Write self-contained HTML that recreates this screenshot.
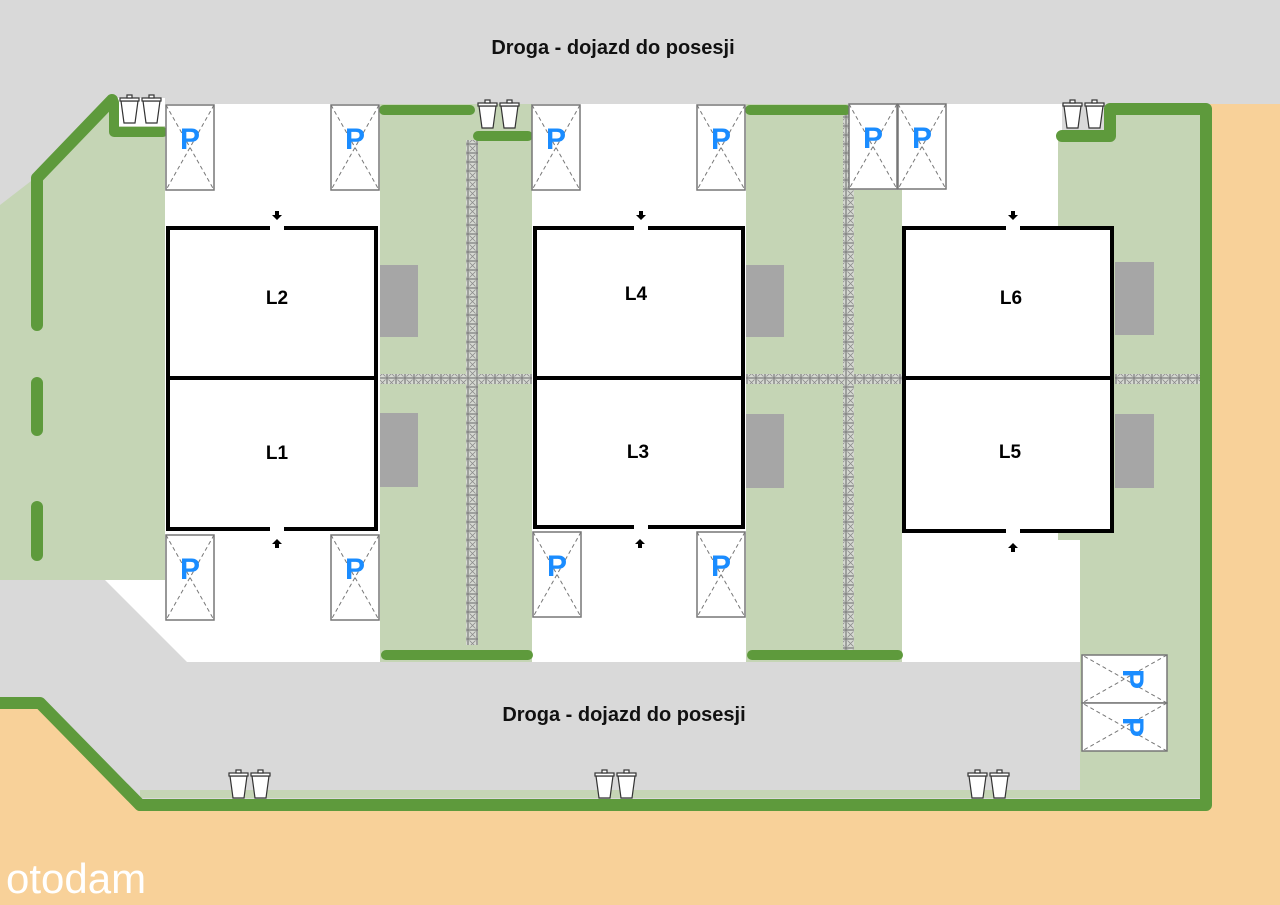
<!DOCTYPE html>
<html><head><meta charset="utf-8"><style>
html,body{margin:0;padding:0;width:1280px;height:905px;overflow:hidden;background:#d9d9d9}
svg text{font-family:"Liberation Sans",sans-serif}
</style></head><body>
<svg width="1280" height="905" viewBox="0 0 1280 905" xmlns="http://www.w3.org/2000/svg">
<defs>
<pattern id="pav" width="9" height="9" patternUnits="userSpaceOnUse">
<rect width="9" height="9" fill="#d6d9d2" stroke="#7a7a7a" stroke-width="1.2"/>
<path d="M1.5 1.5L7.5 7.5M7.5 1.5L1.5 7.5" stroke="#8a8a8a" stroke-width="0.8"/>
</pattern>
<g id="pk"><rect x="0" y="0" width="48" height="85" fill="#fff" stroke="#777" stroke-width="1.5"/>
<path d="M0 0L48 85M48 0L0 85" stroke="#777" stroke-width="1" stroke-dasharray="4 3"/>
<text x="24" y="44" font-size="30" font-weight="bold" fill="#1a8cff" text-anchor="middle">P</text></g>
<g id="bin"><g fill="#fff" stroke="#333" stroke-width="1.2">
<path d="M2 8L5 30H16L19 8Z"/><rect x="1" y="5" width="19" height="3"/><rect x="8" y="2" width="5" height="3"/>
<path d="M24 8L27 30H38L41 8Z"/><rect x="23" y="5" width="19" height="3"/><rect x="30" y="2" width="5" height="3"/></g></g>
<g id="arr"><path d="M-2 -8H2V-4H5L0 1L-5 -4H-2Z" fill="#000"/></g>
</defs>
<rect width="1280" height="905" fill="#d9d9d9"/>
<rect x="1210" y="104" width="70" height="801" fill="#f8d199"/>
<polygon points="0,706 38,706 138,806 1280,806 1280,905 0,905" fill="#f8d199"/>
<polygon points="0,205 35,178 112,100 165,100 165,580 0,580" fill="#c5d5b5"/>
<rect x="118" y="98" width="47" height="28" fill="#fff"/>
<rect x="165" y="104" width="215" height="476" fill="#fff"/>
<polygon points="105,580 380,580 380,662 187,662" fill="#fff"/>
<rect x="532" y="104" width="214" height="558" fill="#fff"/>
<rect x="902" y="104" width="160" height="558" fill="#fff"/>
<rect x="902" y="530" width="178" height="132" fill="#fff"/>
<rect x="380" y="104" width="152" height="558" fill="#c5d5b5"/>
<rect x="746" y="104" width="102" height="558" fill="#c5d5b5"/>
<rect x="848" y="190" width="54" height="472" fill="#c5d5b5"/>
<polygon points="1058,137 1110,137 1110,108 1202,108 1202,792 1080,792 1080,540 1058,540" fill="#c5d5b5"/>
<rect x="140" y="790" width="1062" height="8" fill="#c5d5b5"/>
<rect x="466" y="140" width="12" height="505" fill="url(#pav)"/>
<rect x="843" y="108" width="11" height="542" fill="url(#pav)"/>
<rect x="380" y="374" width="152" height="10" fill="url(#pav)"/>
<rect x="746" y="374" width="156" height="10" fill="url(#pav)"/>
<rect x="1115" y="374" width="85" height="10" fill="url(#pav)"/>
<g stroke="#5e9a3c" stroke-linecap="round" stroke-linejoin="round" fill="none">
<polyline points="112,100 37,178 37,325" stroke-width="12"/>
<line x1="37" y1="383" x2="37" y2="430" stroke-width="12"/>
<line x1="37" y1="507" x2="37" y2="555" stroke-width="12"/>
<polyline points="114,102 114,132 163,132" stroke-width="10"/>
<line x1="384" y1="110" x2="470" y2="110" stroke-width="10"/>
<line x1="478" y1="136" x2="528" y2="136" stroke-width="10"/>
<line x1="750" y1="110" x2="846" y2="110" stroke-width="10"/>
<polyline points="1062,136 1110,136 1110,109 1206,109 1206,805 140,805 40,703 0,703" stroke-width="12"/>
<line x1="386" y1="655" x2="528" y2="655" stroke-width="10"/>
<line x1="752" y1="655" x2="898" y2="655" stroke-width="10"/>
</g>
<g fill="#a6a6a6">
<rect x="380" y="265" width="38" height="72"/><rect x="380" y="413" width="38" height="74"/>
<rect x="746" y="265" width="38" height="72"/><rect x="746" y="414" width="38" height="74"/>
<rect x="1115" y="262" width="39" height="73"/><rect x="1115" y="414" width="39" height="74"/>
</g>
<g fill="#fff" stroke="#000" stroke-width="4">
<rect x="168" y="228" width="208" height="301"/><line x1="168" y1="378" x2="376" y2="378"/>
<rect x="535" y="228" width="208" height="299"/><line x1="535" y1="378" x2="743" y2="378"/>
<rect x="904" y="228" width="208" height="303"/><line x1="904" y1="378" x2="1112" y2="378"/>
</g>
<g fill="#fff">
<rect x="270" y="224" width="14" height="8"/><rect x="270" y="525" width="14" height="8"/>
<rect x="634" y="224" width="14" height="8"/><rect x="634" y="523" width="14" height="8"/>
<rect x="1006" y="224" width="14" height="8"/><rect x="1006" y="527" width="14" height="8"/>
</g>
<use href="#arr" x="277" y="219"/><use href="#arr" x="641" y="219"/><use href="#arr" x="1013" y="219"/>
<use href="#arr" transform="translate(277,540) rotate(180)"/>
<use href="#arr" transform="translate(640,540) rotate(180)"/>
<use href="#arr" transform="translate(1013,544) rotate(180)"/>
<g font-size="19" font-weight="bold" text-anchor="middle" fill="#000">
<text x="277" y="304">L2</text><text x="277" y="459">L1</text>
<text x="636" y="300">L4</text><text x="638" y="458">L3</text>
<text x="1011" y="304">L6</text><text x="1010" y="458">L5</text>
</g>
<use href="#pk" x="166" y="105"/><use href="#pk" x="331" y="105"/>
<use href="#pk" x="532" y="105"/><use href="#pk" x="697" y="105"/>
<use href="#pk" x="849" y="104"/><use href="#pk" x="898" y="104"/>
<use href="#pk" x="166" y="535"/><use href="#pk" x="331" y="535"/>
<use href="#pk" x="533" y="532"/><use href="#pk" x="697" y="532"/>
<use href="#pk" transform="translate(1167,655) rotate(90)"/>
<use href="#pk" transform="translate(1167,703) rotate(90)"/>
<use href="#bin" x="119" y="93"/><use href="#bin" x="477" y="98"/><use href="#bin" x="1062" y="98"/>
<use href="#bin" x="228" y="768"/><use href="#bin" x="594" y="768"/><use href="#bin" x="967" y="768"/>
<text x="613" y="54" font-size="20" font-weight="bold" text-anchor="middle" fill="#111">Droga - dojazd do posesji</text>
<text x="624" y="721" font-size="20" font-weight="bold" text-anchor="middle" fill="#111">Droga - dojazd do posesji</text>
<text x="6" y="893" font-size="42" fill="#fff">otodam</text>
</svg>
</body></html>
